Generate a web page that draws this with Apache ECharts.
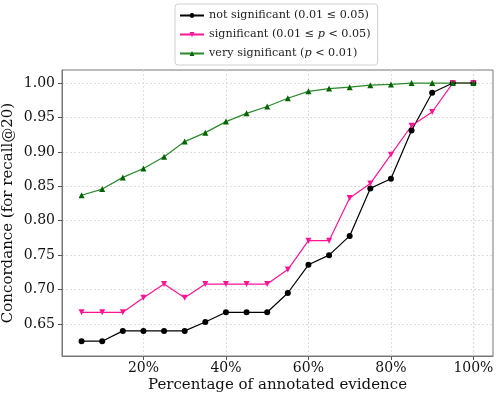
<!DOCTYPE html>
<html>
<head>
<meta charset="utf-8">
<script src="https://cdn.jsdelivr.net/npm/echarts@6/dist/echarts.min.js"></script>
<style>
  html, body { margin: 0; padding: 0; background: #fff; }
  #chart { width: 500px; height: 397px; }
</style>
</head>
<body>
<div id="chart"></div>
<script>
  // x positions (percentage of annotated evidence)
  const percents = [5, 10, 15, 20, 25, 30, 35, 40, 45, 50, 55, 60, 65, 70, 75, 80, 85, 90, 95, 100];
  const notSignificant = [0.625, 0.625, 0.64, 0.64, 0.64, 0.64, 0.653, 0.667, 0.667, 0.667,
    0.695, 0.736, 0.75, 0.778, 0.847, 0.861, 0.931, 0.986, 1.0, 1.0];
  const significant = [0.667, 0.667, 0.667, 0.688, 0.708, 0.688, 0.708, 0.708, 0.708, 0.708,
    0.729, 0.771, 0.771, 0.833, 0.854, 0.896, 0.938, 0.958, 1.0, 1.0];
  const verySignificant = [0.837, 0.846, 0.863, 0.876, 0.893, 0.915, 0.928, 0.944, 0.956, 0.966,
    0.978, 0.988, 0.992, 0.994, 0.997, 0.998, 1.0, 1.0, 1.0, 1.0];
  const xTicks = [20, 40, 60, 80, 100];
  const yTicks = [0.65, 0.70, 0.75, 0.80, 0.85, 0.90, 0.95, 1.00];

  const font = 'DejaVu Serif';
  const chart = echarts.init(document.getElementById('chart'));

  function pairs (ys) {
    return percents.map((p, i) => [p, ys[i]]);
  }

  chart.setOption({
    animation: false,
    textStyle: { fontFamily: font },
    grid: {
      left: 62, right: 7, top: 70, bottom: 41,
      outerBoundsMode: 'none', containLabel: false,
      show: true, borderColor: '#777', borderWidth: 1
    },
    legend: {
      orient: 'vertical',
      left: 175, top: 4,
      padding: [6, 7, 6, 4],
      itemWidth: 24, itemHeight: 6, itemGap: 8,
      borderColor: '#d0d0d0', borderWidth: 1, borderRadius: 3,
      textStyle: {
        fontFamily: font, fontSize: 11.2, color: '#222',
        rich: {
          n: { fontFamily: font, fontSize: 11.2, color: '#222' },
          i: { fontFamily: font, fontSize: 11.2, color: '#222', fontStyle: 'italic' }
        }
      },
      formatter: function (name) {
        if (name === 'sig') return '{n|significant (0.01 ≤ }{i|p}{n| < 0.05)}';
        if (name === 'very') return '{n|very significant (}{i|p}{n| < 0.01)}';
        return '{n|not significant (0.01 ≤ 0.05)}';
      },
      data: ['not', 'sig', 'very']
    },
    xAxis: {
      type: 'value',
      min: 0.25, max: 104.75,
      name: 'Percentage of annotated evidence',
      nameLocation: 'middle', nameGap: 22, nameMoveOverlap: false,
      nameTextStyle: { fontFamily: font, fontSize: 15, color: '#111' },
      axisLine: { show: true, lineStyle: { color: '#777' } },
      axisTick: { show: true, length: 4, customValues: xTicks, lineStyle: { color: '#555' } },
      axisLabel: {
        customValues: xTicks, fontFamily: font, fontSize: 14, color: '#111', margin: 5,
        formatter: v => v + '%'
      },
      splitLine: { show: true, lineStyle: { color: '#ddd', type: [2, 2] } }
    },
    yAxis: {
      type: 'value',
      min: 0.6035, max: 1.019,
      name: 'Concordance (for recall@20)',
      nameLocation: 'middle', nameGap: 46, nameMoveOverlap: false,
      nameTextStyle: { fontFamily: font, fontSize: 15, color: '#111' },
      axisLine: { show: true, lineStyle: { color: '#777' } },
      axisTick: { show: true, length: 4, customValues: yTicks, lineStyle: { color: '#555' } },
      axisLabel: {
        customValues: yTicks, fontFamily: font, fontSize: 14, color: '#111', margin: 7,
        formatter: v => v.toFixed(2)
      },
      splitLine: { show: true, lineStyle: { color: '#ddd', type: [2, 2] } }
    },
    series: [
      {
        name: 'not', type: 'line', data: pairs(notSignificant),
        symbol: 'circle', symbolSize: 6,
        lineStyle: { color: '#000', width: 1.2 },
        itemStyle: { color: '#000' }
      },
      {
        name: 'sig', type: 'line', data: pairs(significant),
        symbol: 'triangle', symbolRotate: 180, symbolSize: 6,
        lineStyle: { color: '#ff1493', width: 1.2 },
        itemStyle: { color: '#ff1493' }
      },
      {
        name: 'very', type: 'line', data: pairs(verySignificant),
        symbol: 'triangle', symbolSize: 6,
        lineStyle: { color: '#2a8a2a', width: 1.2 },
        itemStyle: { color: '#006400' }
      }
    ]
  });
</script>
</body>
</html>
